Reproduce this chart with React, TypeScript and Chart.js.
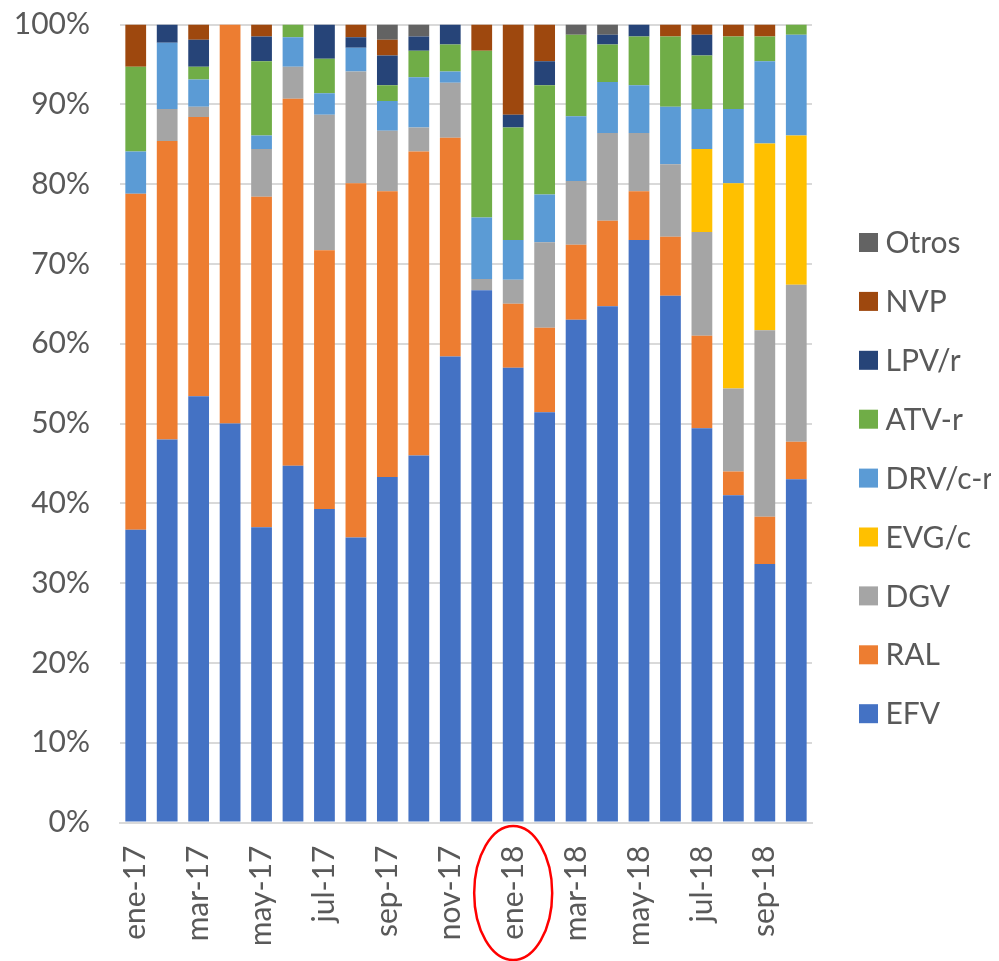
import React, { useEffect, useRef } from 'react';
import { Chart, registerables } from 'chart.js';

Chart.register(...registerables);

const months = ['ene-17', 'feb-17', 'mar-17', 'abr-17', 'may-17', 'jun-17', 'jul-17', 'ago-17', 'sep-17', 'oct-17', 'nov-17', 'dic-17', 'ene-18', 'feb-18', 'mar-18', 'abr-18', 'may-18', 'jun-18', 'jul-18', 'ago-18', 'sep-18', 'oct-18'];

const EFV = [36.7, 48.0, 53.4, 50.0, 37.0, 44.7, 39.3, 35.7, 43.3, 46.0, 58.4, 66.7, 57.0, 51.4, 63.0, 64.7, 73.0, 66.0, 49.4, 41.0, 32.4, 43.0];
const RAL = [42.1, 37.4, 35.0, 50.0, 41.4, 46.0, 32.4, 44.4, 35.8, 38.1, 27.4, 0, 8.0, 10.6, 9.4, 10.7, 6.1, 7.4, 11.6, 3.0, 5.9, 4.7];
const DGV = [0, 4.0, 1.3, 0, 6.0, 4.0, 17.0, 14.0, 7.6, 3.0, 6.9, 1.4, 3.0, 10.7, 8.0, 11.0, 7.3, 9.1, 13.0, 10.4, 23.4, 19.7];
const EVGc = [0, 0, 0, 0, 0, 0, 0, 0, 0, 0, 0, 0, 0, 0, 0, 0, 0, 0, 10.4, 25.7, 23.4, 18.7];
const DRVcr = [5.3, 8.3, 3.4, 0, 1.7, 3.7, 2.7, 3.0, 3.7, 6.3, 1.4, 7.7, 5.0, 6.0, 8.1, 6.4, 6.0, 7.2, 5.0, 9.3, 10.3, 12.6];
const ATVr = [10.6, 0, 1.6, 0, 9.3, 1.6, 4.3, 0, 2.0, 3.3, 3.4, 20.9, 14.1, 13.7, 10.2, 4.7, 6.1, 8.8, 6.7, 9.1, 3.1, 1.3];
const LPVr = [0, 2.3, 3.4, 0, 3.1, 0, 4.3, 1.3, 3.7, 1.8, 2.5, 0, 1.6, 3.0, 0, 1.2, 1.5, 0, 2.6, 0, 0, 0];
const NVP = [5.3, 0, 1.9, 0, 1.5, 0, 0, 1.6, 2.0, 0, 0, 3.3, 11.3, 4.6, 0, 0, 0, 1.5, 1.3, 1.5, 1.5, 0];
const Otros = [0, 0, 0, 0, 0, 0, 0, 0, 1.9, 1.5, 0, 0, 0, 0, 1.3, 1.3, 0, 0, 0, 0, 0, 0];

const seriesNames = ['EFV', 'RAL', 'DGV', 'EVG/c', 'DRV/c-r', 'ATV-r', 'LPV/r', 'NVP', 'Otros'];
const seriesValues = [EFV, RAL, DGV, EVGc, DRVcr, ATVr, LPVr, NVP, Otros];
const seriesColors = ['#4472C4', '#ED7D31', '#A5A5A5', '#FFC000', '#5B9BD5', '#70AD47', '#264478', '#9E480E', '#636363'];

const yTicks = [0, 10, 20, 30, 40, 50, 60, 70, 80, 90, 100];
const highlightLabel = 'ene-18';

const TEXT = '#595959';
const GRID = '#D9D9D9';
const FONT = 'Lato';

const highlightPlugin = {
  id: 'highlightEllipse',
  afterDraw(chart: any) {
    const idx = months.indexOf(highlightLabel);
    if (idx < 0) return;
    const ctx = chart.ctx;
    const x = chart.scales.x.getPixelForValue(idx);
    const y = chart.chartArea.bottom + 70.5;
    ctx.save();
    ctx.beginPath();
    ctx.ellipse(x, y, 39, 67, 0, 0, Math.PI * 2);
    ctx.strokeStyle = '#FF0000';
    ctx.lineWidth = 2.5;
    ctx.stroke();
    ctx.restore();
  },
};

// Legend drawn from the chart's datasets (top = last stacked series)
const sideLegendPlugin = {
  id: 'sideLegend',
  afterDraw(chart: any) {
    const ctx = chart.ctx;
    const ds = chart.data.datasets.slice().reverse();
    const boxX = chart.chartArea.right + 47;
    const textX = boxX + 26.5;
    const firstY = 234.5;
    const step = 58.9;
    ctx.save();
    ctx.font = `30px ${FONT}`;
    ctx.textBaseline = 'middle';
    ctx.textAlign = 'left';
    ds.forEach((d: any, i: number) => {
      const cy = firstY + i * step;
      ctx.fillStyle = d.backgroundColor;
      ctx.fillRect(boxX, cy - 9.5, 19, 19);
      ctx.fillStyle = TEXT;
      ctx.fillText(d.label, textX, cy + 1);
    });
    ctx.restore();
  },
};

export default function App() {
  const ref = useRef<HTMLCanvasElement | null>(null);

  useEffect(() => {
    document.documentElement.style.overflow = 'hidden';
    document.body.style.overflow = 'hidden';
    if (!ref.current) return;
    const chart = new Chart(ref.current, {
      type: 'bar',
      data: {
        labels: months,
        datasets: seriesNames.map((name, i) => ({
          label: name,
          data: seriesValues[i],
          backgroundColor: seriesColors[i],
          borderWidth: 0,
          categoryPercentage: 1,
          barPercentage: 0.66,
        })),
      },
      options: {
        animation: false,
        responsive: false,
        devicePixelRatio: 1,
        layout: { padding: { top: 5, right: 187, left: 0, bottom: 17 } },
        plugins: {
          title: { display: false },
          tooltip: { enabled: false },
          legend: { display: false },
        },
        scales: {
          x: {
            stacked: true,
            grid: { display: false, drawTicks: false },
            border: { display: true, color: GRID, width: 2 },
            ticks: {
              autoSkip: false,
              maxRotation: 90,
              minRotation: 90,
              padding: 23,
              color: TEXT,
              font: { family: FONT, size: 30 },
              callback: (_v: any, i: number) => (i % 2 === 0 ? months[i] : ''),
            },
            afterFit: (axis: any) => {
              axis.height = 121.5;
            },
          },
          y: {
            stacked: true,
            min: 0,
            max: 100,
            afterBuildTicks: (axis: any) => {
              axis.ticks = yTicks.map((v) => ({ value: v }));
            },
            grid: { color: GRID, lineWidth: 2, drawTicks: true, tickLength: 30, tickColor: 'rgba(0,0,0,0)' },
            border: { display: false },
            ticks: {
              padding: 0,
              color: TEXT,
              font: { family: FONT, size: 30, lineHeight: 1.1 },
              callback: (v: any) => v + '%',
            },
            afterFit: (axis: any) => {
              axis.width = 112;
            },
          },
        },
      },
      plugins: [highlightPlugin, sideLegendPlugin],
    } as any);
    return () => chart.destroy();
  }, []);

  return (
    <div style={{ width: 991, height: 953 }}>
      <canvas ref={ref} width={991} height={953} style={{ display: 'block', width: 991, height: 953 }} />
    </div>
  );
}
